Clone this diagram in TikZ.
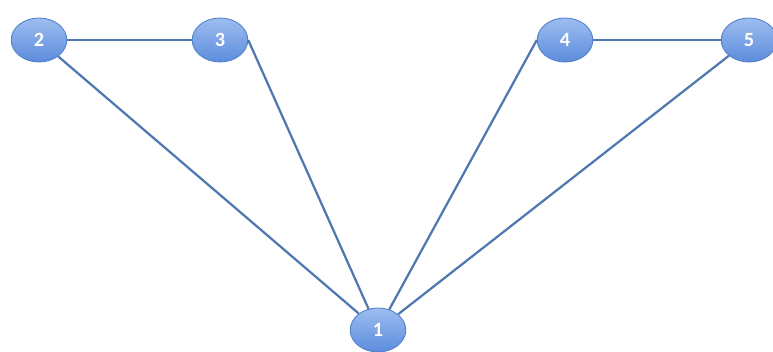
\documentclass[tikz,border=0pt]{standalone}
\usepackage{fontspec}
\setsansfont{Carlito}
\usetikzlibrary{shapes.geometric}
\definecolor{nodeTop}  {HTML}{9DBDF0}
\definecolor{nodeBot}  {HTML}{5C8CDC}
\definecolor{nodeRim}  {HTML}{4F7EC8}
\definecolor{edgeBlue} {HTML}{5078B0}
\tikzset{
  vert/.style={ellipse, minimum width=1.39cm, minimum height=1.1cm,
               top color=nodeTop, bottom color=nodeBot, draw=nodeRim,
               line width=0.6pt, text=white,
               font=\sffamily\bfseries\Large},
  link/.style={edgeBlue, line width=1.6pt}
}
\begin{document}
\begin{tikzpicture}[x=0.025cm, y=-0.025cm]
 \useasboundingbox (0,0) rectangle (773,352);
 \foreach \n/\px/\py in {1/378/330,2/39/40,3/220/40,4/565/40,5/749/40}{
   \node[vert] (v\n) at (\px,\py) {\n};
 }
 \draw[link] (v2) -- (v3);
 \draw[link] (v4) -- (v5);
 \draw[link] (v2) -- (v1);
 \draw[link] (v3.east) -- (v1);
 \draw[link] (v4.west) -- (v1);
 \draw[link] (v5) -- (v1);
\end{tikzpicture}
\end{document}
